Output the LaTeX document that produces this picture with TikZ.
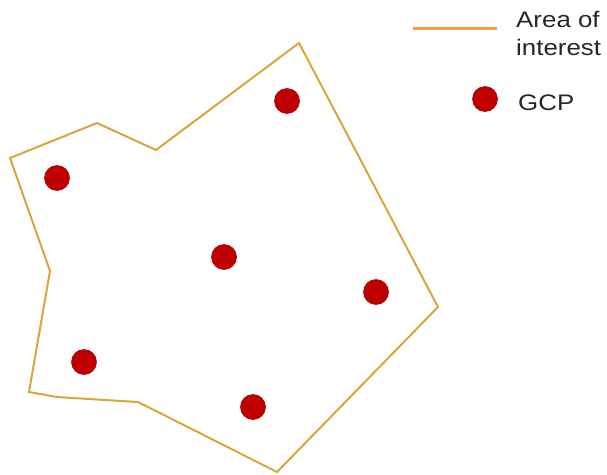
\documentclass[tikz,border=0pt]{standalone}
\usepackage{fontspec}
\setmainfont{Liberation Sans}
\definecolor{aoiline}{RGB}{218,165,58}
\definecolor{legline}{RGB}{243,157,80}
\definecolor{gcpred}{RGB}{192,0,0}
\tikzset{
  gcp/.style={circle, fill=gcpred, draw=gcpred!85!black, line width=0.6pt, minimum size=25pt, inner sep=0pt},
  legtext/.style={anchor=base west, inner sep=0pt, xscale=1.15, font=\fontsize{22.5}{28}\selectfont, text=black!85},
  aoi/.style={draw=aoiline, line width=2pt, line join=miter}
}
\begin{document}
\begin{tikzpicture}[x=1pt,y=-1pt]
\useasboundingbox (0,0) rectangle (607,474);
% area of interest polygon
\coordinate (p1) at (10,158);
\coordinate (p2) at (97,123);
\coordinate (p3) at (156,150);
\coordinate (p4) at (299,43);
\coordinate (p5) at (438,307);
\coordinate (p6) at (277,472);
\coordinate (p7) at (138,402);
\coordinate (p8) at (57,397);
\coordinate (p9) at (29,392);
\coordinate (p10) at (50,271);
\draw[aoi] (p1) -- (p2) -- (p3) -- (p4) -- (p5) -- (p6) -- (p7) -- (p8) -- (p9) -- (p10) -- cycle;
% GCPs
\node[gcp] (g1) at (57,178) {};
\node[gcp] (g2) at (287,101) {};
\node[gcp] (g3) at (224,257) {};
\node[gcp] (g4) at (376,292) {};
\node[gcp] (g5) at (84,362) {};
\node[gcp] (g6) at (253,407) {};
% legend
\coordinate (la) at (413,28);
\coordinate (lb) at (497,28);
\draw[legline, line width=3pt] (la) -- (lb);
\node[legtext] (t1) at (516,27) {Area of};
\node[legtext] (t2) at (516,55) {interest};
\node[gcp] (lg) at (485,99) {};
\node[legtext] (t3) at (518,110) {GCP};
\end{tikzpicture}
\end{document}
